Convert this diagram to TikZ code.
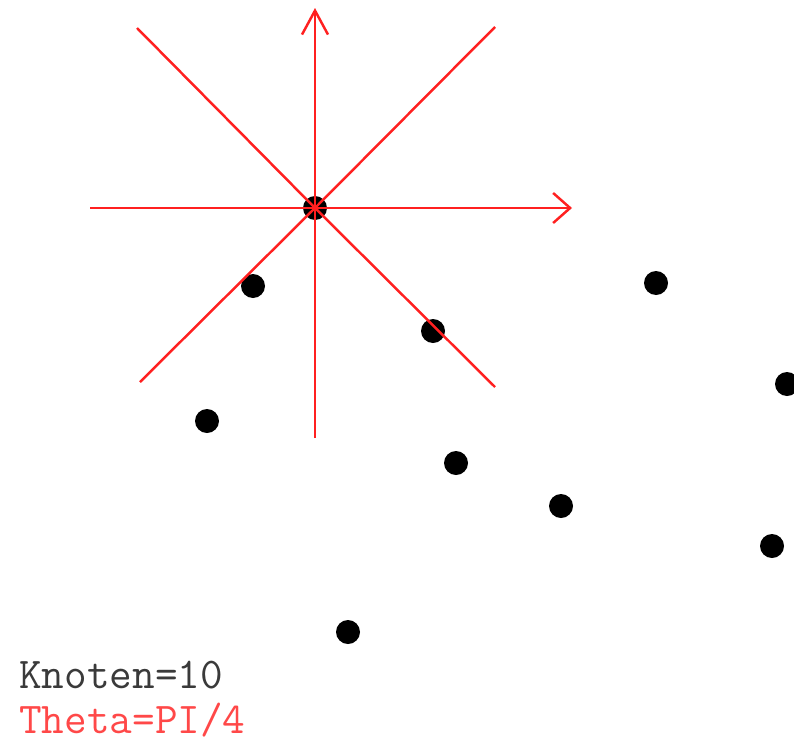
\documentclass[tikz,border=0pt]{standalone}
\usepackage{tikz}
\usetikzlibrary{
    arrows.meta,
    positioning
}
\definecolor{strahlrot}{HTML}{FF2020}
\definecolor{textrot}{HTML}{FF4848}
\definecolor{textgrau}{HTML}{3A3A3A}
\tikzset{
    knoten/.style={
        circle,
        fill=black,
        inner sep=0pt,
        minimum size=0.48cm
    },
    strahl/.style={
        draw=strahlrot,
        line width=1.4pt
    },
    pfeil/.style={
        strahl,
        -{Straight Barb[length=3.4mm,width=6mm,line width=1.4pt]}
    },
    pfeilhoch/.style={
        strahl,
        -{Straight Barb[length=4.8mm,width=5.2mm,line width=1.4pt]}
    },
    info/.style={
        anchor=base west,
        inner sep=0pt,
        font=\ttfamily\fontsize{25}{29}\selectfont
    }
}

\begin{document}
\begin{tikzpicture}[x=0.02cm, y=-0.02cm]
\useasboundingbox (0,0) rectangle (794,744);

% Knoten
\node[knoten] (k0) at (315,208) {};
\node[knoten] (k1) at (253,286) {};
\node[knoten] (k2) at (433,331) {};
\node[knoten] (k3) at (656,283) {};
\node[knoten] (k4) at (787,384) {};
\node[knoten] (k5) at (207,421) {};
\node[knoten] (k6) at (456,463) {};
\node[knoten] (k7) at (561,506) {};
\node[knoten] (k8) at (772,546) {};
\node[knoten] (k9) at (348,632) {};

% Strahlen um k0
\coordinate (links) at (90,208);
\coordinate (rechts) at (572,208);
\coordinate (oben) at (315,8);
\coordinate (unten) at (315,438);
\coordinate (ol) at (137,28);
\coordinate (or) at (495,27);
\coordinate (ul) at (140,382);
\coordinate (ur) at (495,387);

\draw[strahl] (ol) -- (k0.center) -- (ur);
\draw[strahl] (or) -- (k0.center) -- (ul);
\draw[pfeil] (links) -- (k0.center) -- (rechts);
\draw[pfeilhoch] (unten) -- (k0.center) -- (oben);

\node[info, text=textgrau] (anzahl) at (19,688) {Knoten=10};
\node[info, text=textrot] (winkel) at (19,733) {Theta=PI/4};

\end{tikzpicture}
\end{document}
